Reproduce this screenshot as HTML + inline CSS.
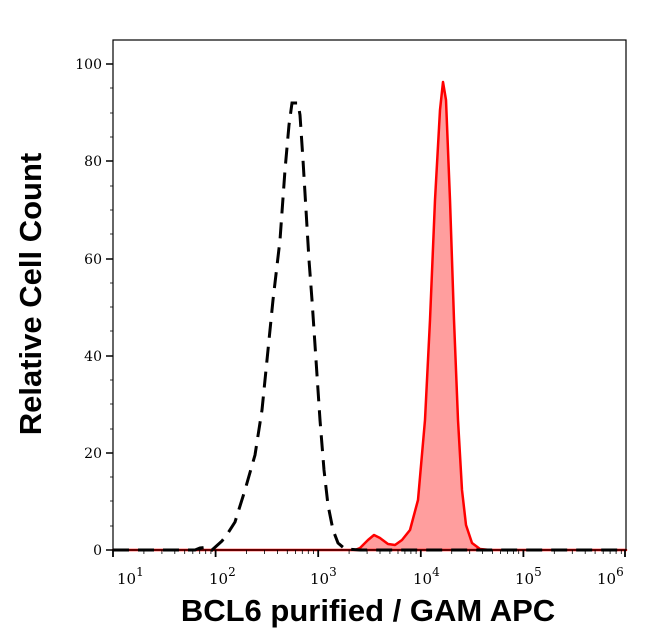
<!DOCTYPE html>
<html><head><style>body{margin:0;background:#fff}svg{display:block}</style></head><body>
<svg width="646" height="641" xmlns="http://www.w3.org/2000/svg">
<rect x="0" y="0" width="646" height="641" fill="#fff"/>
<path d="M113,550 L355,550 L360,548 L368,540 L374,535 L380,538 L388,544 L395,545 L402,540 L410,530 L418,500 L425,420 L430,320 L435,200 L440,110 L443,82 L446,100 L450,200 L454,320 L458,420 L462,490 L466,525 L472,543 L480,549 L490,550 L626,550 Z" fill="#ff9e9e" stroke="#ff0000" stroke-width="2.5" stroke-linejoin="round"/>
<path d="M113,550 L195,550 L200,548 L208,547 L212,550 L222,541 L228,533 L235,522 L245,490 L255,455 L262,410 L268,350 L273,300 L280,240 L285,170 L289,125 L292,103 L298,103 L300,115 L303,160 L306,210 L309,260 L312,300 L316,360 L320,420 L324,470 L328,505 L333,530 L338,543 L345,549 L360,550 L626,550" fill="none" stroke="#000" stroke-width="3" stroke-dasharray="16,9"/>
<rect x="113" y="40" width="513" height="510" fill="none" stroke="#000" stroke-width="1.2"/>
<g stroke="#000" stroke-width="1.5">
<line x1="106" y1="550" x2="113" y2="550"/><line x1="106" y1="453" x2="113" y2="453"/><line x1="106" y1="356" x2="113" y2="356"/><line x1="106" y1="259" x2="113" y2="259"/><line x1="106" y1="161" x2="113" y2="161"/><line x1="106" y1="64" x2="113" y2="64"/>
</g>
<g stroke="#000" stroke-width="0.8">
<line x1="110" y1="526" x2="113" y2="526"/><line x1="110" y1="501" x2="113" y2="501"/><line x1="110" y1="477" x2="113" y2="477"/>
<line x1="110" y1="429" x2="113" y2="429"/><line x1="110" y1="404" x2="113" y2="404"/><line x1="110" y1="380" x2="113" y2="380"/>
<line x1="110" y1="331" x2="113" y2="331"/><line x1="110" y1="307" x2="113" y2="307"/><line x1="110" y1="283" x2="113" y2="283"/>
<line x1="110" y1="234" x2="113" y2="234"/><line x1="110" y1="210" x2="113" y2="210"/><line x1="110" y1="186" x2="113" y2="186"/>
<line x1="110" y1="137" x2="113" y2="137"/><line x1="110" y1="113" x2="113" y2="113"/><line x1="110" y1="88" x2="113" y2="88"/>
</g>
<g stroke="#000" stroke-width="1.8">
<line x1="113" y1="550" x2="113" y2="557"/><line x1="215.6" y1="550" x2="215.6" y2="557"/><line x1="318.2" y1="550" x2="318.2" y2="557"/><line x1="420.8" y1="550" x2="420.8" y2="557"/><line x1="523.4" y1="550" x2="523.4" y2="557"/><line x1="625" y1="550" x2="625" y2="557"/>
</g>
<g stroke="#000" stroke-width="0.8">
<path d="M143.9,550v4M161.9,550v4M174.8,550v4M184.7,550v4M192.8,550v4M199.7,550v4M205.7,550v4M210.9,550v4
M246.5,550v4M264.5,550v4M277.4,550v4M287.3,550v4M295.4,550v4M302.3,550v4M308.3,550v4M313.5,550v4
M349.1,550v4M367.1,550v4M380,550v4M389.9,550v4M398,550v4M404.9,550v4M410.9,550v4M416.1,550v4
M451.7,550v4M469.7,550v4M482.6,550v4M492.5,550v4M500.6,550v4M507.5,550v4M513.5,550v4M518.7,550v4
M554.3,550v4M572.3,550v4M585.2,550v4M595.1,550v4M603.2,550v4M610.1,550v4M616.1,550v4M621.3,550v4"/>
</g>
<g font-family="'DejaVu Serif','Liberation Serif',serif" font-size="14" fill="#000" text-anchor="end">
<text x="102" y="555">0</text><text x="102" y="458">20</text><text x="102" y="361">40</text><text x="102" y="264">60</text><text x="102" y="166">80</text><text x="102" y="69">100</text>
</g>
<g font-family="'DejaVu Serif','Liberation Serif',serif" font-size="15" fill="#000">
<text x="117" y="584">10<tspan font-size="12" dy="-8">1</tspan></text>
<text x="209" y="584">10<tspan font-size="12" dy="-8">2</tspan></text>
<text x="310" y="584">10<tspan font-size="12" dy="-8">3</tspan></text>
<text x="413" y="584">10<tspan font-size="12" dy="-8">4</tspan></text>
<text x="515" y="584">10<tspan font-size="12" dy="-8">5</tspan></text>
<text x="597" y="584">10<tspan font-size="12" dy="-8">6</tspan></text>
</g>
<text x="368" y="621" font-family="'Liberation Sans',sans-serif" font-weight="bold" font-size="31" text-anchor="middle">BCL6 purified / GAM APC</text>
<text transform="translate(41,294) rotate(-90)" font-family="'Liberation Sans',sans-serif" font-weight="bold" font-size="31" text-anchor="middle">Relative Cell Count</text>
</svg>
</body></html>
